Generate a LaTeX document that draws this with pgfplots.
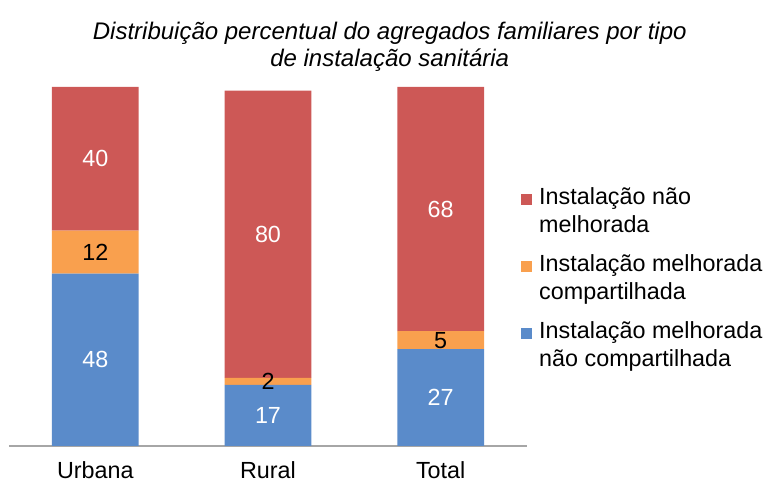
\documentclass[border=0pt]{standalone}
\usepackage{pgfplots}
\usepackage{pgfplotstable}
\pgfplotsset{compat=1.18}
\usepackage{fontspec}
\setmainfont{Liberation Sans}
\definecolor{barBlue}{HTML}{5A8BCA}
\definecolor{barOrange}{HTML}{F9A04E}
\definecolor{barRed}{HTML}{CD5856}

% share of households, by area
\pgfplotstableread{
x y
0 48
1 17
2 27
}\blueData
\pgfplotstableread{
x y
0 12
1 2
2 5
}\orangeData
\pgfplotstableread{
x y
0 40
1 80
2 68
}\redData

\begin{document}
\begin{tikzpicture}
\useasboundingbox (-6.75pt,-30pt) rectangle (570pt,334.5pt);
\begin{axis}[
    at={(0,0)}, anchor=south west,
    scale only axis, width=388.5pt, height=269.25pt,
    ybar stacked, bar width=65pt,
    xmin=-0.5, xmax=2.5, ymin=0, ymax=100,
    axis x line=bottom, axis y line=none,
    x axis line style={-, draw=gray!70, line width=0.8pt},
    xtick={0,1,2}, xticklabels={Urbana,Rural,Total},
    major tick length=0pt,
    xticklabel style={font=\fontsize{17.5}{20}\selectfont, yshift=-8pt},
    title={Distribuição percentual do agregados familiares por tipo\\de instalação sanitária},
    title style={font=\itshape\fontsize{18}{20.5}\selectfont, align=center,
        at={(0.735,1)}, anchor=south, yshift=2pt},
    /pgf/number format/assume math mode=true,
    visualization depends on={rawy \as \segval},
    nodes near coords={\pgfmathprintnumber{\segval}},
    nodes near coords style={font=\fontsize{17.5}{20}\selectfont, anchor=center},
    reverse legend,
    legend style={draw=none, at={(0.98,0.735)}, anchor=north west,
        font=\fontsize{17.5}{21}\selectfont, row sep=11pt,
        cells={anchor=west, align=left}},
    legend image code/.code={%
        \fill[#1] (0pt,4.5pt) rectangle (8.25pt,12.75pt);
        \path (11.75pt,6pt);},
]
\addplot[fill=barBlue, draw=none, nodes near coords style={text=white}] table {\blueData};
\addlegendentry{Instalação melhorada\\não compartilhada}
\addplot[fill=barOrange, draw=none, nodes near coords style={text=black}] table {\orangeData};
\addlegendentry{Instalação melhorada\\compartilhada}
\addplot[fill=barRed, draw=none, nodes near coords style={text=white}] table {\redData};
\addlegendentry{Instalação não\\melhorada}
\end{axis}
\end{tikzpicture}
\end{document}
